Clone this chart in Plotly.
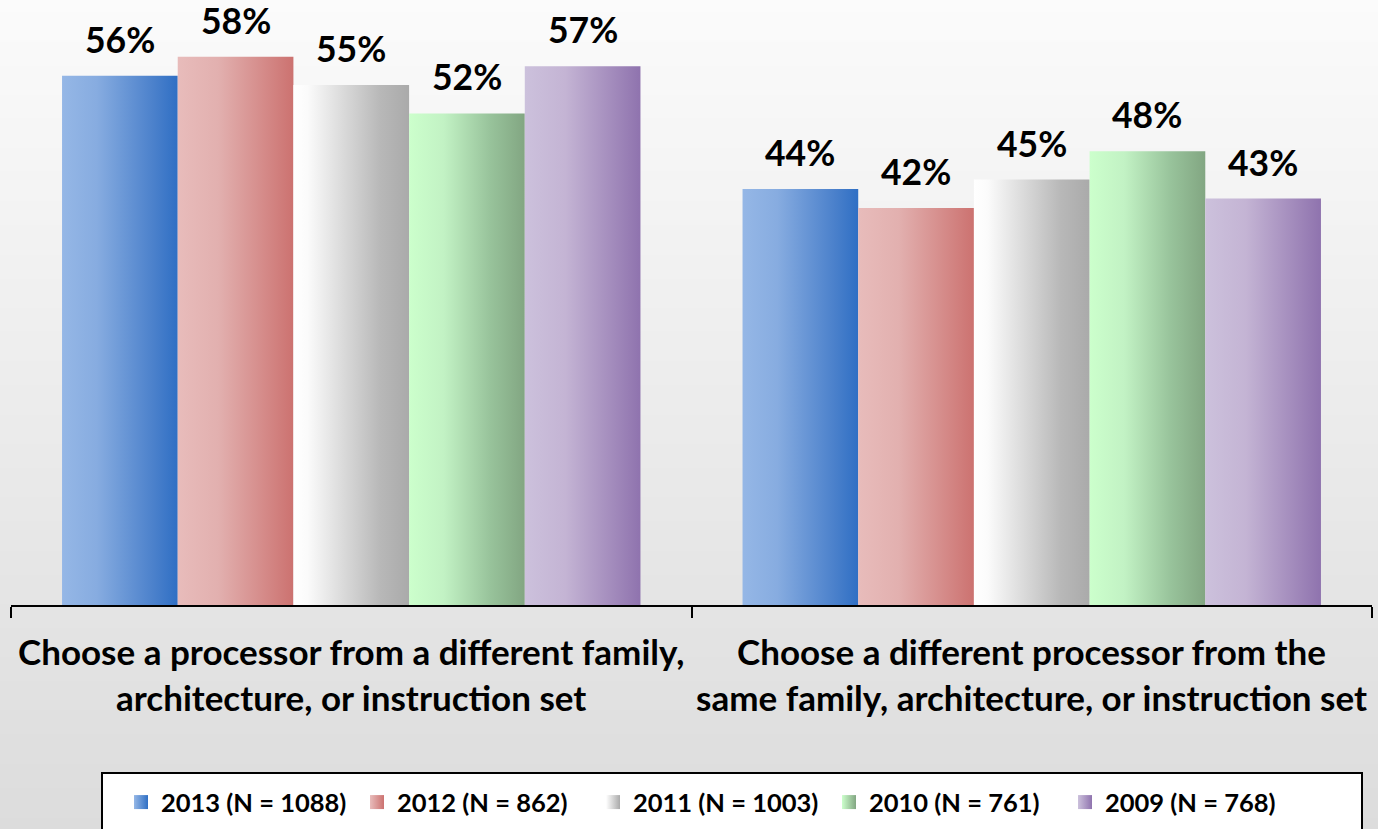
import plotly.graph_objects as go

# ---- data ----
categories = [
    "Choose a processor from a different family,<br>architecture, or instruction set",
    "Choose a different processor from the<br>same family, architecture, or instruction set",
]
series_names = ["2013 (N = 1088)", "2012 (N = 862)", "2011 (N = 1003)", "2010 (N = 761)", "2009 (N = 768)"]
pct_2013 = [56, 44]
pct_2012 = [58, 42]
pct_2011 = [55, 45]
pct_2010 = [52, 48]
pct_2009 = [57, 43]
series_values = [pct_2013, pct_2012, pct_2011, pct_2010, pct_2009]

# ---- style ----
# light-to-dark horizontal gradient for each series
gradients = [
    [[0, "#95b7e6"], [0.3, "#87ace0"], [0.8, "#4a80cb"], [1, "#2f6fc4"]],
    [[0, "#e8bcbb"], [0.35, "#e2b0af"], [1, "#cc7270"]],
    [[0, "#ffffff"], [0.12, "#fbfbfb"], [0.75, "#b8b8b8"], [1, "#aaaaaa"]],
    [[0, "#ccffcc"], [0.3, "#c2f2c4"], [0.7, "#98c39b"], [1, "#82a682"]],
    [[0, "#ccc1dc"], [0.35, "#c4b4d4"], [1, "#8f73ae"]],
]
FONT = "Lato"
BAR_W = 0.17
W, H = 1378, 829
M_L, M_R, M_T, M_B = 11, 6, 0, 224
plot_h = H - M_T - M_B
plot_w = W - M_L - M_R


def px_to_paper_x(px):
    return (px - M_L) / plot_w


def px_to_paper_y(py):
    return (plot_h - (py - M_T)) / plot_h


fig = go.Figure()
annotations = []

n_series = len(series_names)
for si, (name, vals, cs) in enumerate(zip(series_names, series_values, gradients)):
    for ci, v in enumerate(vals):
        x0 = ci + (si - n_series / 2) * BAR_W
        x1 = x0 + BAR_W
        fig.add_trace(go.Scatter(
            x=[x0, x0, x1, x1, x0], y=[0, v, v, 0, 0],
            mode="none", fill="toself",
            fillgradient=dict(type="horizontal", colorscale=cs),
            legendgroup=name, showlegend=False, hoverinfo="skip",
        ))
        annotations.append(dict(
            x=(x0 + x1) / 2, y=v, xref="x", yref="y",
            text=f"{v}%", showarrow=False, yanchor="bottom", yshift=14,
            borderpad=0,
            font=dict(family=FONT, size=35.5, color="black", weight="bold"),
        ))
    # legend swatch for the series
    fig.add_trace(go.Scatter(
        x=[None], y=[None], mode="markers", name=name, legendgroup=name,
        marker=dict(symbol="square", size=14, color=cs[0][1],
                    gradient=dict(type="horizontal", color=cs[-1][1]),
                    line=dict(width=0)),
    ))

# category labels under the axis
for ci, cat in enumerate(categories):
    annotations.append(dict(
        x=ci, y=px_to_paper_y(628), xref="x", yref="paper",
        text=cat, showarrow=False, yanchor="top", align="center",
        font=dict(family=FONT, size=35, color="black", weight="bold"),
    ))

# soft vertical background fade
shapes = []
N_STRIPS = 140
top_c, bot_c = 251, 220
y_bottom = px_to_paper_y(H)
for k in range(N_STRIPS):
    f0 = k / N_STRIPS
    f1 = (k + 1) / N_STRIPS
    c = round(top_c + (bot_c - top_c) * (f0 + f1) / 2)
    shapes.append(dict(
        type="rect", xref="paper", yref="paper", layer="below",
        x0=-0.02, x1=1.02,
        y0=1 - f1 * (1 - y_bottom) - 0.002, y1=1 - f0 * (1 - y_bottom),
        fillcolor=f"rgb({c},{c},{c})", line=dict(width=0),
    ))

# framed white panel behind the legend
shapes.append(dict(
    type="rect", xref="paper", yref="paper", layer="below",
    x0=px_to_paper_x(102), x1=px_to_paper_x(1362),
    y0=px_to_paper_y(H + 10), y1=px_to_paper_y(773),
    fillcolor="white", line=dict(color="black", width=2),
))

fig.update_layout(
    width=W, height=H,
    margin=dict(l=M_L, r=M_R, t=M_T, b=M_B),
    paper_bgcolor="rgb(236,236,236)", plot_bgcolor="rgba(0,0,0,0)",
    showlegend=True,
    xaxis=dict(range=[-0.5, 1.5], tickvals=[-0.5, 0.5, 1.5], ticktext=["", "", ""],
               ticks="outside", ticklen=11, tickwidth=2, tickcolor="black",
               showline=True, linecolor="black", linewidth=2,
               showgrid=False, zeroline=False, fixedrange=True),
    yaxis=dict(range=[0, 64], visible=False, fixedrange=True),
    legend=dict(orientation="h", x=px_to_paper_x(101), xanchor="left",
                y=px_to_paper_y(779), yanchor="top",
                bgcolor="rgba(0,0,0,0)", borderwidth=0,
                font=dict(family=FONT, size=25.5, color="black", weight="bold"),
                indentation=20, entrywidth=171),
    annotations=annotations,
    shapes=shapes,
)

fig.write_html("out.html")
